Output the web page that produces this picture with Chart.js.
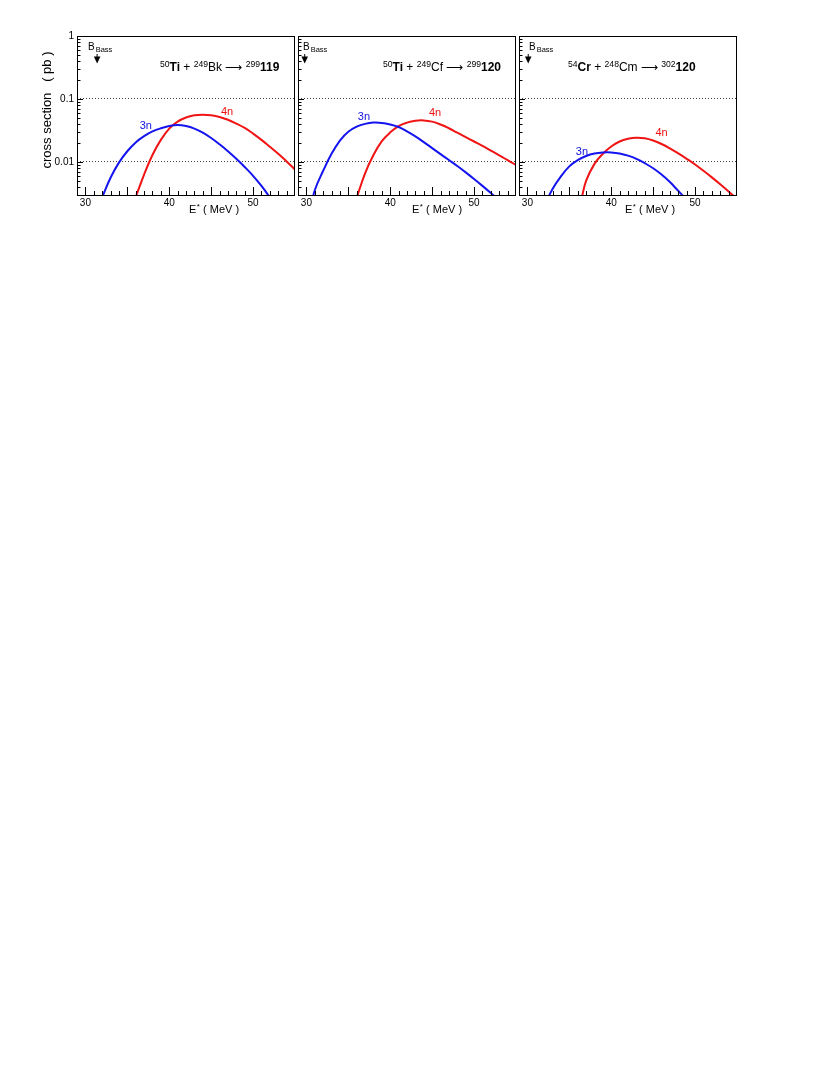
<!DOCTYPE html>
<html>
<head>
<meta charset="utf-8">
<script src="https://cdn.jsdelivr.net/npm/chart.js@4.4.1/dist/chart.umd.min.js"></script>
<style>
html,body{margin:0;padding:0;background:#fff;width:830px;height:1075px;overflow:hidden}
canvas{position:absolute;top:0}
</style>
</head>
<body>
<canvas id="c1" width="296" height="230" style="left:0px"></canvas>
<canvas id="c2" width="222" height="230" style="left:296px"></canvas>
<canvas id="c3" width="222" height="230" style="left:518px"></canvas>
<script>
const FONT = "'Liberation Sans', Arial, Helvetica, sans-serif";

// ---- axis ticks ----
const xTickValues = [30, 40, 50];
const yTickValues = [1, 0.1, 0.01];
const yTickLabels = ['1', '0.1', '0.01'];
const xMin = 29, xMax = 55;
const yMin = 0.00288, yMax = 1;

// ---- panel 1 : 50Ti + 249Bk -> 299 119 ----
const E3n_Bk = [32, 33, 34, 35, 36, 37, 38, 39, 40, 41, 42, 43, 44, 45, 46, 47, 48, 49, 50, 51, 52];
const S3n_Bk = [0.00275, 0.00562, 0.00977, 0.01479, 0.02042, 0.0257, 0.03055, 0.03428, 0.03715, 0.03846, 0.03715, 0.03388, 0.02917, 0.02399, 0.01905, 0.01479, 0.01122, 0.00832, 0.00603, 0.00417, 0.00275];
const E4n_Bk = [36, 37, 38, 39, 40, 41, 42, 43, 44, 45, 46, 47, 48, 49, 50, 51, 52, 53, 54, 55];
const S4n_Bk = [0.00275, 0.0063, 0.0129, 0.0224, 0.0339, 0.0437, 0.0507, 0.0550, 0.0562, 0.0550, 0.0519, 0.0468, 0.0407, 0.0347, 0.0282, 0.0224, 0.0174, 0.0135, 0.0102, 0.0076];

// ---- panel 2 : 50Ti + 249Cf -> 299 120 ----
const E3n_Cf = [30.5, 31, 32, 33, 34, 35, 36, 37, 38, 39, 40, 41, 42, 43, 44, 45, 46, 47, 48, 49, 50, 51, 52, 53];
const S3n_Cf = [0.00178, 0.00355, 0.00724, 0.01349, 0.02188, 0.0302, 0.03631, 0.04027, 0.04217, 0.04169, 0.03936, 0.03589, 0.03055, 0.02541, 0.02065, 0.0166, 0.01334, 0.01072, 0.00861, 0.00684, 0.00537, 0.00417, 0.0032, 0.00243];
const E4n_Cf = [36, 37, 38, 39, 40, 41, 42, 43, 44, 45, 46, 47, 48, 49, 50, 51, 52, 53, 54, 55];
const S4n_Cf = [0.00269, 0.00661, 0.01288, 0.02138, 0.02951, 0.03715, 0.04217, 0.04519, 0.04571, 0.04365, 0.03936, 0.03428, 0.02917, 0.02483, 0.02113, 0.01799, 0.01514, 0.01274, 0.01072, 0.00891];

// ---- panel 3 : 54Cr + 248Cm -> 302 120 ----
const E3n_Cm = [32, 33, 34, 35, 36, 37, 38, 39, 40, 41, 42, 43, 44, 45, 46, 47, 48, 49];
const S3n_Cm = [0.0020, 0.00372, 0.00589, 0.00851, 0.01072, 0.01245, 0.01365, 0.01419, 0.01419, 0.01365, 0.01259, 0.01122, 0.00955, 0.00794, 0.00631, 0.00479, 0.00347, 0.00251];
const E4n_Cm = [36.5, 37, 38, 39, 40, 41, 42, 43, 44, 45, 46, 47, 48, 49, 50, 51, 52, 53, 54, 55];
const S4n_Cm = [0.00275, 0.00501, 0.00933, 0.01349, 0.01758, 0.02113, 0.02333, 0.02427, 0.02371, 0.02188, 0.01928, 0.01641, 0.01365, 0.01122, 0.00912, 0.00724, 0.00569, 0.00442, 0.00339, 0.00257];

// Bass barrier energies (MeV)
const eBass = [31.4, 29.8, 30.1];

// reaction labels: [text, style]  style: s = superscript, b = bold, n = normal
const reactions = [
  [['50','s'],['Ti','b'],[' + ','n'],['249','s'],['Bk','n'],[' \u27F6 ','n'],['299','s'],['119','b']],
  [['50','s'],['Ti','b'],[' + ','n'],['249','s'],['Cf','n'],[' \u27F6 ','n'],['299','s'],['120','b']],
  [['54','s'],['Cr','b'],[' + ','n'],['248','s'],['Cm','n'],[' \u27F6 ','n'],['302','s'],['120','b']]
];

// layout of each panel (pixel offsets from the plot area)
const panels = [
  {id:'c1', yw:77, padR:1, showY:true,  e3:E3n_Bk, s3:S3n_Bk, e4:E4n_Bk, s4:S4n_Bk, rx:83,  bx:11, tx:112, l3:[37.2,0.0369], l4:[46.9,0.0615]},
  {id:'c2', yw:2,  padR:2, showY:false, e3:E3n_Cf, s3:S3n_Cf, e4:E4n_Cf, s4:S4n_Cf, rx:85,  bx:5,  tx:114, l3:[36.87,0.0513], l4:[45.34,0.0593]},
  {id:'c3', yw:1,  padR:3, showY:false, e3:E3n_Cm, s3:S3n_Cm, e4:E4n_Cm, s4:S4n_Cm, rx:49,  bx:10, tx:106, l3:[36.51,0.0145], l4:[46.0,0.0286]}
];

function pts(E, S){ return E.map((e,i)=>({x:e, y:S[i]})); }

function drawRich(ctx, x, y, parts, size){
  ctx.textBaseline = 'alphabetic';
  ctx.textAlign = 'left';
  for (const [t, st] of parts){
    let f, dy = 0;
    if (st === 's'){ f = (size*0.72).toFixed(1) + 'px ' + FONT; dy = -4; }
    else if (st === 'b'){ f = 'bold ' + size + 'px ' + FONT; }
    else { f = size + 'px ' + FONT; }
    ctx.font = f;
    ctx.fillText(t, x, y + dy);
    x += ctx.measureText(t).width;
  }
}

const decor = {
  id: 'decor',
  afterDatasetsDraw(chart, args, o){
    const {ctx, chartArea:a, scales:{x, y}} = chart;
    const p = o.panel, idx = o.index;
    ctx.save();
    ctx.strokeStyle = '#000';
    ctx.lineWidth = 1;
    ctx.beginPath();
    // x inner ticks, every 1 MeV
    for (let v = Math.ceil(x.min + 0.01); v < x.max; v++){
      const px = Math.round(x.getPixelForValue(v)) + 0.5;
      const len = (v % 5 === 0) ? 9 : 5;
      ctx.moveTo(px, a.bottom); ctx.lineTo(px, a.bottom - len);
    }
    // y inner ticks (log)
    for (const d of [0.001, 0.01, 0.1]){
      for (let m = 1; m <= 9; m++){
        const v = m * d;
        if (v < y.min || v >= y.max) continue;
        const py = Math.round(y.getPixelForValue(v)) + 0.5;
        const len = (m === 1) ? 6 : 3.5;
        ctx.moveTo(a.left, py); ctx.lineTo(a.left + len, py);
      }
    }
    ctx.stroke();
    // frame
    ctx.strokeRect(Math.round(a.left) + 0.5, Math.round(a.top) + 0.5, Math.round(a.right - a.left) - 1, Math.round(a.bottom - a.top) - 1);

    // Bass arrow
    const bx = x.getPixelForValue(eBass[idx]);
    ctx.fillStyle = '#000';
    ctx.beginPath();
    ctx.moveTo(bx, a.top + 18); ctx.lineTo(bx, a.top + 21);
    ctx.stroke();
    ctx.beginPath();
    ctx.moveTo(bx - 3.3, a.top + 20.5); ctx.lineTo(bx + 3.3, a.top + 20.5); ctx.lineTo(bx, a.top + 27.5); ctx.closePath();
    ctx.fill();
    // B_Bass text
    ctx.textBaseline = 'alphabetic'; ctx.textAlign = 'left';
    ctx.font = '10px ' + FONT;
    ctx.fillText('B', a.left + p.bx, a.top + 14);
    const wB = ctx.measureText('B').width;
    ctx.font = '7.5px ' + FONT;
    ctx.fillText('Bass', a.left + p.bx + wB + 1, a.top + 16);

    // reaction label
    drawRich(ctx, a.left + p.rx, a.top + 35, reactions[idx], 12);

    // curve labels
    ctx.font = '11px ' + FONT;
    ctx.textAlign = 'center'; ctx.textBaseline = 'middle';
    ctx.fillStyle = '#1010e0';
    ctx.fillText('3n', x.getPixelForValue(p.l3[0]), y.getPixelForValue(p.l3[1]));
    ctx.fillStyle = '#f01010';
    ctx.fillText('4n', x.getPixelForValue(p.l4[0]), y.getPixelForValue(p.l4[1]));

    // x title
    ctx.fillStyle = '#000';
    ctx.textAlign = 'left'; ctx.textBaseline = 'alphabetic';
    let tx = a.left + p.tx;
    ctx.font = '11px ' + FONT;
    ctx.fillText('E', tx, a.bottom + 17); tx += ctx.measureText('E').width + 0.5;
    ctx.font = '8px ' + FONT;
    ctx.fillText('*', tx, a.bottom + 13); tx += ctx.measureText('*').width;
    ctx.font = '11px ' + FONT;
    ctx.fillText(' ( MeV )', tx, a.bottom + 17);

    // y title
    if (p.showY){
      ctx.save();
      ctx.translate(47, 110);
      ctx.rotate(-Math.PI/2);
      ctx.font = '13px ' + FONT;
      ctx.textAlign = 'center'; ctx.textBaseline = 'middle';
      ctx.fillText('cross section   ( pb )', 0, 0);
      ctx.restore();
    }
    ctx.restore();
  }
};

panels.forEach((p, idx) => {
  new Chart(document.getElementById(p.id), {
    type: 'line',
    data: {
      datasets: [
        {label:'3n', data: pts(p.e3, p.s3), borderColor:'#1414f0', borderWidth:2, pointRadius:0, fill:false, tension:0.4, clip:0},
        {label:'4n', data: pts(p.e4, p.s4), borderColor:'#f01414', borderWidth:2, pointRadius:0, fill:false, tension:0.4, clip:0}
      ]
    },
    options: {
      responsive: false,
      animation: false,
      devicePixelRatio: 1,
      layout: {padding: {left:0, right:p.padR, top:36, bottom:0}},
      plugins: {legend:{display:false}, tooltip:{enabled:false}, decor:{panel:p, index:idx}},
      scales: {
        x: {
          type:'linear', min:xMin, max:xMax,
          afterBuildTicks: s => { s.ticks = xTickValues.map(v => ({value:v})); },
          afterFit: s => { s.height = 34; },
          grid: {display:false, drawTicks:false},
          border: {display:false},
          ticks: {color:'#000', padding:1, maxRotation:0, autoSkip:false, font:{size:10, family:FONT}}
        },
        y: {
          type:'logarithmic', min:yMin, max:yMax,
          afterBuildTicks: s => { s.ticks = yTickValues.map(v => ({value:v})); },
          afterFit: s => { s.width = p.yw; },
          grid: {drawTicks:false, lineWidth:1, color: c => (c.tick && c.tick.value < 0.5) ? '#444' : 'rgba(0,0,0,0)'},
          border: {display:false, dash:[1,2]},
          ticks: {display:p.showY, color:'#000', padding:3, font:{size:10, family:FONT}, callback:(v, i) => yTickLabels[i]}
        }
      }
    },
    plugins: [decor]
  });
});
</script>
</body>
</html>
